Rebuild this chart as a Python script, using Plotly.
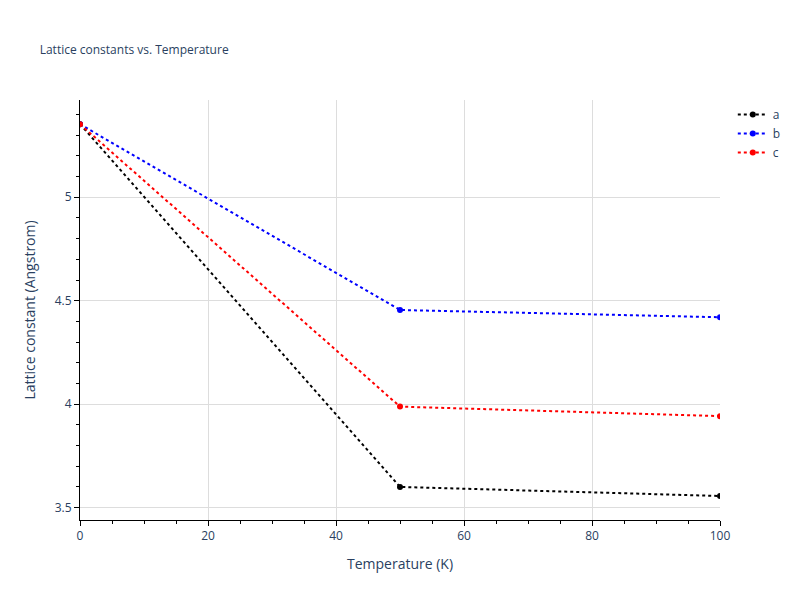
import plotly.graph_objects as go

temps = [0, 50, 100]
a_vals = [5.353, 3.600, 3.556]
b_vals = [5.353, 4.455, 4.420]
c_vals = [5.353, 3.988, 3.942]

fig = go.Figure()
for name, vals, col in [("a", a_vals, "black"), ("b", b_vals, "blue"), ("c", c_vals, "red")]:
    fig.add_trace(go.Scatter(x=temps, y=vals, name=name, mode="lines+markers",
                             line=dict(color=col, dash="dot", width=2),
                             marker=dict(color=col, size=6)))

axis_common = dict(showgrid=True, gridcolor="#dddddd", showline=True, linecolor="black",
                   ticks="outside", tickcolor="black", zeroline=False,
                   minor=dict(ticks="outside", tickcolor="black", ticklen=3))
fig.update_layout(
    width=792, height=592,
    font=dict(family="Open Sans"),
    title=dict(text="Lattice constants vs. Temperature", font=dict(size=12), x=0.04),
    plot_bgcolor="white", paper_bgcolor="white",
    margin=dict(l=72, r=80, t=92, b=80),
    xaxis=dict(title="Temperature (K)", range=[0, 100], **axis_common),
    yaxis=dict(title="Lattice constant (Angstrom)", range=[3.44, 5.47], dtick=0.5, **axis_common),
)
fig.write_html("out.html")
